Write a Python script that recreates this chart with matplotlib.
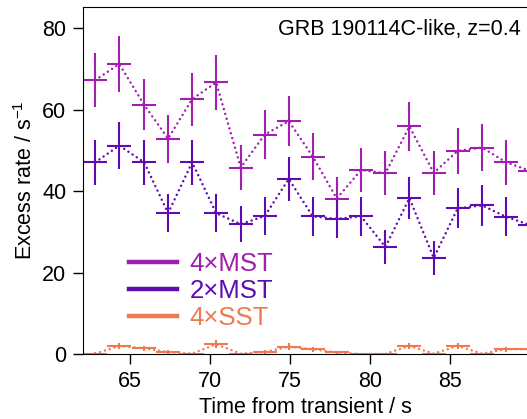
import matplotlib
matplotlib.use("Agg")
import matplotlib.pyplot as plt
from matplotlib.lines import Line2D

plt.rcParams['font.family'] = ['Liberation Sans', 'DejaVu Sans']
plt.rcParams['mathtext.fontset'] = 'custom'
plt.rcParams['mathtext.rm'] = 'Liberation Sans'

# bin centres (s) and half bin width
t = [62.83, 64.33, 65.88, 67.38, 68.88, 70.38, 71.92, 73.42, 74.92, 76.42,
     77.92, 79.44, 80.96, 82.46, 83.98, 85.48, 87.0, 88.5, 90.0]
half_bin = 0.75

mst4 = [67.3, 71.2, 61.2, 52.9, 62.6, 66.7, 45.8, 53.9, 57.2, 48.5,
        38.2, 45.2, 44.4, 55.9, 44.5, 49.9, 50.7, 47.1, 45.0]
mst4_err = [6.7, 6.9, 6.3, 5.9, 6.5, 6.7, 5.5, 6.0, 6.1, 5.7,
            5.2, 5.4, 5.4, 6.0, 5.4, 5.7, 5.8, 5.5, 5.4]

mst2 = [47.1, 51.2, 47.1, 34.6, 47.1, 34.6, 31.9, 33.9, 43.0, 33.8,
        33.2, 33.8, 26.3, 38.3, 23.6, 35.8, 36.5, 33.7, 31.7]
mst2_err = [5.5, 5.8, 5.5, 4.7, 5.5, 4.7, 4.5, 4.7, 5.3, 4.8,
            4.7, 4.8, 4.2, 5.1, 4.1, 4.9, 5.0, 4.8, 4.6]

sst4 = [0.1, 2.0, 1.4, 0.5, 0.1, 2.4, 0.1, 0.5, 1.8, 1.2,
        0.4, 0.0, 0.05, 2.0, 0.1, 2.0, 0.1, 1.2, 1.2]
sst4_err = [0.3, 0.8, 0.7, 0.4, 0.2, 1.0, 0.2, 0.4, 0.8, 0.6,
            0.4, 0.0, 0.1, 0.8, 0.2, 0.8, 0.2, 0.6, 0.6]

series = [("4\u00d7MST", mst4, mst4_err, "#a01eb0"),
          ("2\u00d7MST", mst2, mst2_err, "#5e0cb2"),
          ("4\u00d7SST", sst4, sst4_err, "#f07a50")]

fig = plt.figure(figsize=(5.27, 4.19), dpi=100)
ax = fig.add_axes([0.1575, 0.155, 0.8425, 0.829])

handles = []
for label, y, yerr, col in series:
    ax.errorbar(t, y, xerr=half_bin, yerr=yerr, fmt='none', ecolor=col,
                elinewidth=1.5, capsize=0)
    # round dots joining the bin centres
    ax.plot(t, y, color=col, lw=1.8, linestyle=(0, (0.01, 2.0)),
            dash_capstyle='round')
    handles.append(Line2D([], [], color=col, lw=3.2, label=label))

ax.set_xlim(62.06, 89.81)
ax.set_ylim(0, 85.3)
ax.set_xticks([65, 70, 75, 80, 85])
ax.set_yticks([0, 20, 40, 60, 80])
ax.tick_params(direction='out', length=7, width=1, labelsize=15.5, pad=5,
               top=False, right=False)
ax.spines['right'].set_visible(False)

ax.set_xlabel("Time from transient / s", fontsize=15.5, labelpad=4)
ax.set_ylabel(r"Excess rate / s$^{\mathregular{-1}}$", fontsize=15.5, labelpad=4)

ax.text(0.985, 0.965, "GRB 190114C-like, z=0.4", transform=ax.transAxes,
        ha='right', va='top', fontsize=15.5)

ax.legend(handles=handles, loc='upper left', bbox_to_anchor=(0.104, 0.293),
          frameon=False, fontsize=18.5, handlelength=1.85, handletextpad=0.5,
          labelspacing=0.12, borderpad=0, borderaxespad=0, labelcolor='linecolor')

fig.savefig("out.png", dpi=100)
